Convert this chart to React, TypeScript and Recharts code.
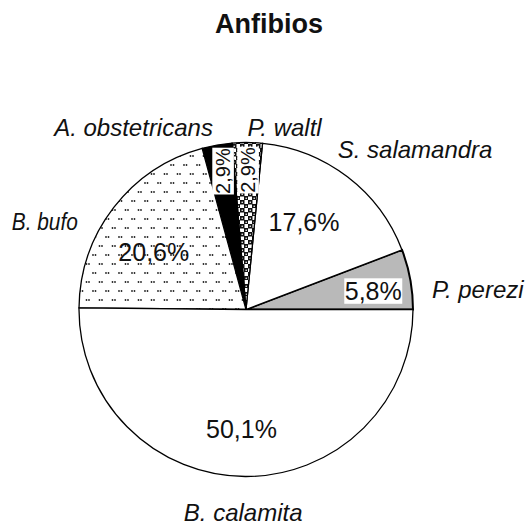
import { Cell, Pie, PieChart } from 'recharts'

// Anfibios — share of records per species
const species = ['P. perezi', 'S. salamandra', 'P. waltl', 'A. obstetricans', 'B. bufo', 'B. calamita']
const shares = [5.8, 17.6, 2.9, 2.9, 20.6, 50.1]
const shareLabels = ['5,8%', '17,6%', '2,9%', '2,9%', '20,6%', '50,1%']

const fills = ['#b9b9b9', '#ffffff', 'url(#pat-waltl)', '#000000', 'url(#pat-bufo)', '#ffffff']

// label placement tweaks (relative to the slice geometry recharts hands us)
const nameLayout = [
  { dx: 10, dy: 21, anchor: 'start', len: 0 },
  { dx: -17, dy: -9, anchor: 'start', len: 0 },
  { dx: 0, dy: 5.5, anchor: 'start', len: 0 },
  { dx: -2, dy: 3, anchor: 'end', len: 0 },
  { dx: -26.5, dy: 30, anchor: 'end', len: 66 },
  { dx: -2, dy: 32.5, anchor: 'middle', len: 0 },
]
const pctLayout = [
  { r: 0.77, da: -2.2, boxed: true, vertical: false, size: 25 },
  { r: 0.63, da: 3.9, boxed: false, vertical: false, size: 25 },
  { r: 0.835, da: -0.4, boxed: true, vertical: true, size: 20 },
  { r: 0.84, da: -0.6, boxed: true, vertical: true, size: 20 },
  { r: 0.65, da: 5.8, boxed: false, vertical: false, size: 25 },
  { r: 0.715, da: -1.9, boxed: false, vertical: false, size: 25 },
]

const data = species.map((name, i) => ({ name, value: shares[i] }))

const FONT = '"Liberation Sans", Arial, Helvetica, sans-serif'
const RAD = Math.PI / 180

function SliceLabel(props: any) {
  const { cx, cy, midAngle, outerRadius, index } = props
  const n = nameLayout[index]
  const p = pctLayout[index]
  const a1 = midAngle * RAD
  const nx = cx + (outerRadius + 12) * Math.cos(a1) + n.dx
  const ny = cy - (outerRadius + 12) * Math.sin(a1) + n.dy
  const a2 = (midAngle + p.da) * RAD
  const px = cx + outerRadius * p.r * Math.cos(a2)
  const py = cy - outerRadius * p.r * Math.sin(a2)
  const text = shareLabels[index]
  const w = text.length * p.size * 0.56 + 2
  const h = p.size * 0.78 + 6
  return (
    <g>
      <text
        x={nx}
        y={ny}
        textAnchor={n.anchor}
        fontFamily={FONT}
        fontStyle="italic"
        fontSize={24}
        fill="#111"
        {...(n.len ? { textLength: n.len, lengthAdjust: 'spacingAndGlyphs' } : {})}
      >
        {species[index]}
      </text>
      <g transform={p.vertical ? `rotate(-90 ${px} ${py})` : undefined}>
        {p.boxed && <rect x={px - w / 2} y={py - h / 2} width={w} height={h} fill="#fff" />}
        <text
          x={px}
          y={py}
          textAnchor="middle"
          dominantBaseline="central"
          fontFamily={FONT}
          fontSize={p.size}
          fill="#111"
        >
          {text}
        </text>
      </g>
    </g>
  )
}

export default function App() {
  return (
    <div style={{ position: 'absolute', left: 0, top: 0, width: 530, height: 527, background: '#fff' }}>
      <div
        style={{
          position: 'absolute',
          top: 11,
          left: 0,
          width: 538,
          textAlign: 'center',
          fontFamily: FONT,
          fontWeight: 'bold',
          fontSize: 27,
          lineHeight: '27px',
          color: '#111',
        }}
      >
        Anfibios
      </div>
      <PieChart
        width={530}
        height={527}
        margin={{ top: 0, right: 0, bottom: 0, left: 0 }}
        style={{ position: 'absolute', left: 0, top: 0 }}
      >
        <defs>
          <pattern id="pat-bufo" width="13" height="18" patternUnits="userSpaceOnUse">
            <rect width="13" height="18" fill="#fff" />
            <circle cx="2" cy="3" r="0.9" fill="#222" />
            <circle cx="4.5" cy="3" r="0.9" fill="#222" />
            <circle cx="8.5" cy="12" r="0.9" fill="#222" />
            <circle cx="11" cy="12" r="0.9" fill="#222" />
          </pattern>
          <pattern id="pat-waltl" width="8" height="8" patternUnits="userSpaceOnUse">
            <rect width="8" height="8" fill="#fff" />
            <rect x="0" y="0" width="4.5" height="4.5" fill="#111" />
            <rect x="4" y="4" width="4.5" height="4.5" fill="#111" />
            <circle cx="2.2" cy="2.2" r="0.8" fill="#fff" />
            <circle cx="6.2" cy="6.2" r="0.8" fill="#fff" />
          </pattern>
        </defs>
        <Pie
          data={data}
          dataKey="value"
          nameKey="name"
          cx={246}
          cy={309.5}
          outerRadius={167}
          startAngle={0}
          endAngle={360}
          stroke="#000"
          strokeWidth={1.3}
          label={SliceLabel}
          labelLine={false}
          isAnimationActive={false}
        >
          {data.map((d, i) => (
            <Cell key={d.name} fill={fills[i]} stroke="#000" strokeWidth={i === 0 ? 2 : 1.3} />
          ))}
        </Pie>
      </PieChart>
    </div>
  )
}
